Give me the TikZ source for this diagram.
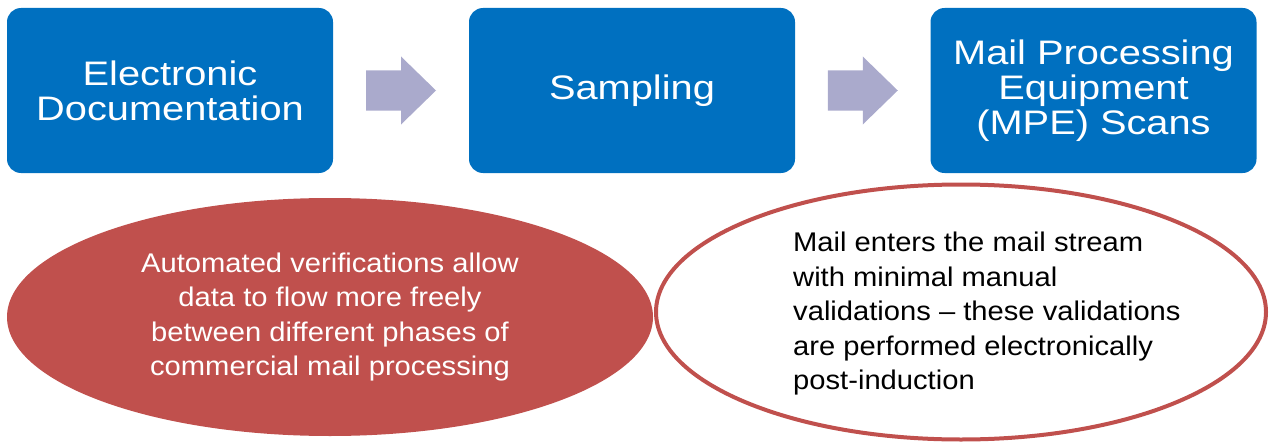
\documentclass[tikz,border=0pt]{standalone}
\usepackage{fontspec}
\setmainfont{Liberation Sans}
\newfontfamily\stepfont[FakeStretch=1.17]{Liberation Sans}
\newfontfamily\notefont[FakeStretch=1.08]{Liberation Sans}
\usetikzlibrary{shapes.geometric,calc}
\definecolor{stepblue}{RGB}{0,112,192}
\definecolor{arrowgrey}{RGB}{170,170,204}
\definecolor{notered}{RGB}{192,80,77}

\begin{document}
\begin{tikzpicture}[x=1pt,y=-1pt,
    stepbox/.style={fill=stepblue, rounded corners=14pt, minimum width=326pt,
      minimum height=165pt, inner sep=0pt, text=white, align=center,
      font=\stepfont\fontsize{34}{35}\selectfont},
    notetext/.style={inner sep=0pt, font=\notefont\fontsize{27}{34.5}\selectfont},
    blockarrow/.style={fill=arrowgrey}]
    \useasboundingbox (0,0) rectangle (1275,444);

    \node [stepbox] (edoc) at (170,90.5) {Electronic\\Documentation};
    \node [stepbox] (sampling) at (632,90.5) {Sampling};
    \node [stepbox] (mpe) at (1093.5,90.5) {Mail Processing\\Equipment\\(MPE) Scans};

    \fill [blockarrow] ($(edoc.east)!0.5!(sampling.west)$) ++(-35,-20) -- ++(35,0) -- ++(0,-14)
      -- ++(35,34) -- ++(-35,34) -- ++(0,-14) -- ++(-35,0) -- cycle;
    \fill [blockarrow] ($(sampling.east)!0.5!(mpe.west)$) ++(-35,-20) -- ++(35,0) -- ++(0,-14)
      -- ++(35,34) -- ++(-35,34) -- ++(0,-14) -- ++(-35,0) -- cycle;

    \node [ellipse, fill=notered, minimum width=646pt, minimum height=238pt,
      notetext, text=white, align=center] (verify) at (330,317)
      {Automated verifications allow\\data to flow more freely\\between different phases of\\commercial mail processing};

    \node [ellipse, draw=notered, line width=4pt, minimum width=610pt,
      minimum height=255pt] (induction) at (961,312) {};
    \node [notetext, anchor=west, align=left] (inductiontext) at (793,314)
      {Mail enters the mail stream\\with minimal manual\\validations – these validations\\are performed electronically\\post-induction};
\end{tikzpicture}
\end{document}
